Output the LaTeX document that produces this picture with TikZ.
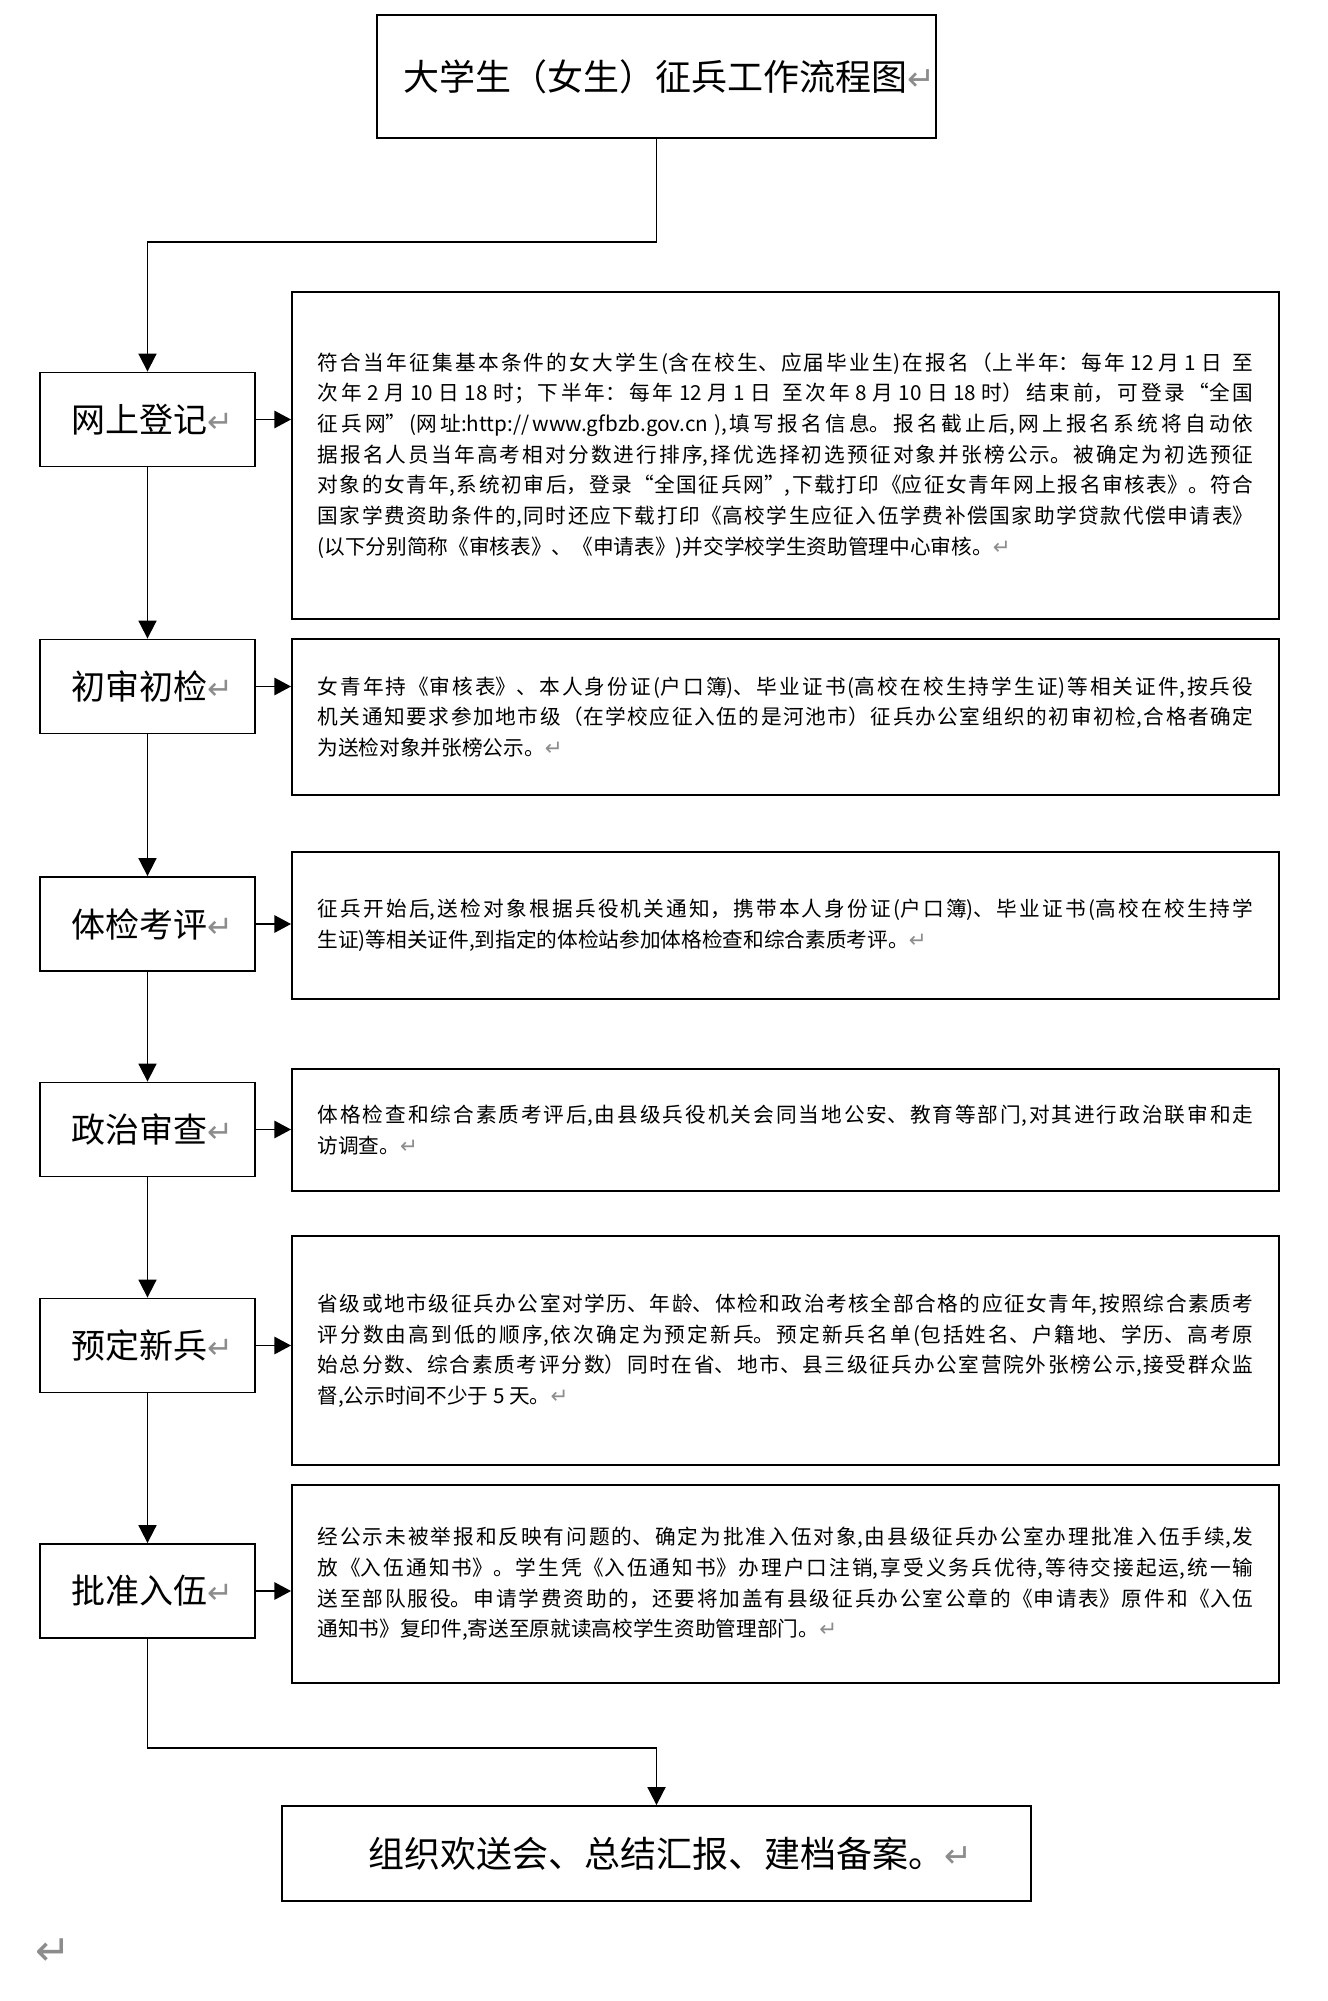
\documentclass[tikz,border=0pt]{standalone}
\usepackage{fontspec}
\newfontfamily\cjk{Noto Sans CJK SC}
\newfontfamily\symf{DejaVu Sans}
\usetikzlibrary{arrows.meta}
\XeTeXlinebreaklocale "zh"
\XeTeXlinebreakskip=0pt plus 6pt
\newcommand{\pmk}[1][16]{{\color{black!45}\symf\fontsize{#1}{#1}\selectfont ↵}}
\tikzset{
  box/.style={draw, line width=1.4pt, inner sep=0pt},
  lbox/.style={box, minimum width=215*0.75pt, minimum height=94*0.75pt,
    font=\cjk\fontsize{25.5}{30}\selectfont},
  tbox/.style={box, minimum width=987*0.75pt, text width=936*0.75pt, align=justify,
    font=\cjk\fontsize{15.5}{23}\selectfont},
  ln/.style={line width=1.4pt},
  varr/.style={ln, -{Triangle[length=13.5pt,width=13.5pt]}},
  harr/.style={line width=1.3pt, -{Triangle[length=12.5pt,width=13pt]}}
}
\begin{document}
\begin{tikzpicture}[x=0.75pt,y=-0.75pt]
\useasboundingbox[fill=white] (0,0) rectangle (1327,2001);

\node[box, minimum width=557*0.75pt, minimum height=123*0.75pt,
  font=\cjk\fontsize{27}{32}\selectfont] (title) at (656.5,76.5) {\hspace{20pt}大学生（女生）征兵工作流程图\pmk[25]};

\node[lbox] (l1) at (147.5,419.5) {\hspace{8pt}网上登记\pmk[23]};
\node[lbox] (l2) at (147.5,686.5) {\hspace{8pt}初审初检\pmk[23]};
\node[lbox] (l3) at (147.5,924) {\hspace{8pt}体检考评\pmk[23]};
\node[lbox] (l4) at (147.5,1129.5) {\hspace{8pt}政治审查\pmk[23]};
\node[lbox] (l5) at (147.5,1345.5) {\hspace{8pt}预定新兵\pmk[23]};
\node[lbox] (l6) at (147.5,1591) {\hspace{8pt}批准入伍\pmk[23]};

\node[tbox, minimum height=327*0.75pt] (t1) at (785.5,455.5) {%
符合当年征集基本条件的女大学生(含在校生、应届毕业生)在报名（上半年：每年 12 月 1 日 \ 至\linebreak
次年 2 月 10 日 18 时；下半年：每年 12 月 1 日 \ 至次年 8 月 10 日 18 时）结束前，可登录“全国\linebreak
征兵网”(网址:http://www.gfbzb.gov.cn ),填写报名信息。报名截止后,网上报名系统将自动依\linebreak
据报名人员当年高考相对分数进行排序,择优选择初选预征对象并张榜公示。被确定为初选预征\linebreak
对象的女青年,系统初审后，登录“全国征兵网”,下载打印《应征女青年网上报名审核表》。符合\linebreak
国家学费资助条件的,同时还应下载打印《高校学生应征入伍学费补偿国家助学贷款代偿申请表》\linebreak
(以下分别简称《审核表》、《申请表》)并交学校学生资助管理中心审核。\pmk};

\node[tbox, minimum height=156*0.75pt] (t2) at (785.5,717) {%
女青年持《审核表》、本人身份证(户口簿)、毕业证书(高校在校生持学生证)等相关证件,按兵役\linebreak
机关通知要求参加地市级（在学校应征入伍的是河池市）征兵办公室组织的初审初检,合格者确定\linebreak
为送检对象并张榜公示。\pmk};

\node[tbox, minimum height=147*0.75pt] (t3) at (785.5,925.5) {%
征兵开始后,送检对象根据兵役机关通知，携带本人身份证(户口簿)、毕业证书(高校在校生持学\linebreak
生证)等相关证件,到指定的体检站参加体格检查和综合素质考评。\pmk};

\node[tbox, minimum height=122*0.75pt] (t4) at (785.5,1130) {%
体格检查和综合素质考评后,由县级兵役机关会同当地公安、教育等部门,对其进行政治联审和走\linebreak
访调查。\pmk};

\node[tbox, minimum height=229*0.75pt] (t5) at (785.5,1350.5) {%
省级或地市级征兵办公室对学历、年龄、体检和政治考核全部合格的应征女青年,按照综合素质考\linebreak
评分数由高到低的顺序,依次确定为预定新兵。预定新兵名单(包括姓名、户籍地、学历、高考原\linebreak
始总分数、综合素质考评分数）同时在省、地市、县三级征兵办公室营院外张榜公示,接受群众监\linebreak
督,公示时间不少于 5 天。\pmk};

\node[tbox, minimum height=198*0.75pt] (t6) at (785.5,1584) {%
经公示未被举报和反映有问题的、确定为批准入伍对象,由县级征兵办公室办理批准入伍手续,发\linebreak
放《入伍通知书》。学生凭《入伍通知书》办理户口注销,享受义务兵优待,等待交接起运,统一输\linebreak
送至部队服役。申请学费资助的，还要将加盖有县级征兵办公室公章的《申请表》原件和《入伍\linebreak
通知书》复印件,寄送至原就读高校学生资助管理部门。\pmk};

\node[box, minimum width=749*0.75pt, minimum height=95*0.75pt,
  font=\cjk\fontsize{27}{32}\selectfont] (final) at (656.5,1853.5) {\hspace{21pt}组织欢送会、总结汇报、建档备案。\pmk[25]};

\node[inner sep=0pt] (endmark) at (53,1952) {\pmk[32]};

\coordinate (c1) at (147.5,242);
\coordinate (c2) at (656.5,1748);

\draw[varr] (title.south) |- (c1) -- (l1.north);
\draw[varr] (l1.south) -- (l2.north);
\draw[varr] (l2.south) -- (l3.north);
\draw[varr] (l3.south) -- (l4.north);
\draw[varr] (l4.south) -- (l5.north);
\draw[varr] (l5.south) -- (l6.north);
\draw[varr] (l6.south) |- (c2) -- (final.north);

\draw[harr] (l1.east) -- (t1.west |- l1.east);
\draw[harr] (l2.east) -- (t2.west |- l2.east);
\draw[harr] (l3.east) -- (t3.west |- l3.east);
\draw[harr] (l4.east) -- (t4.west |- l4.east);
\draw[harr] (l5.east) -- (t5.west |- l5.east);
\draw[harr] (l6.east) -- (t6.west |- l6.east);
\end{tikzpicture}
\end{document}
